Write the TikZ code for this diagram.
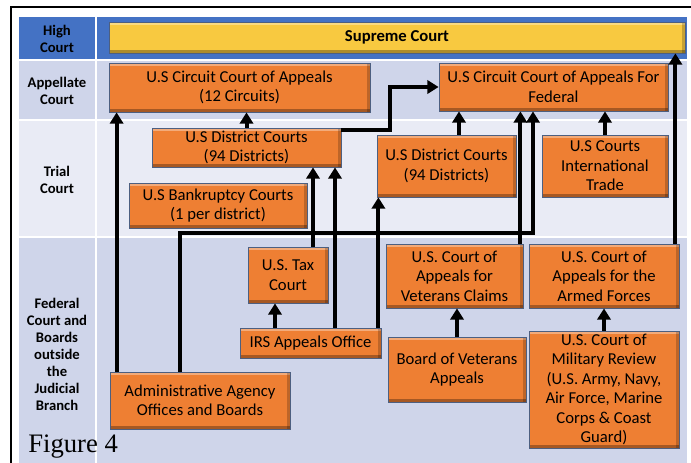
\documentclass[tikz,border=0pt]{standalone}
\usepackage{fontspec}
\setmainfont{Carlito}
\newfontfamily\figfont{Liberation Serif}
\usepackage{xcolor}
\usetikzlibrary{arrows.meta}

\definecolor{hdblue}{HTML}{4472C4}
\definecolor{rowdark}{HTML}{CFD5EA}
\definecolor{rowlight}{HTML}{E9EBF5}
\definecolor{boxorange}{HTML}{EE7F33}
\definecolor{boxyellow}{HTML}{F8C940}
\definecolor{boxedge}{HTML}{4D5F80}

\tikzset{
 bevel/.style={path picture={
  \fill[white,opacity=.35] (path picture bounding box.north west) rectangle ([yshift=-2pt]path picture bounding box.north east);
  \fill[black,opacity=.3] (path picture bounding box.south west) rectangle ([yshift=2pt]path picture bounding box.south east);
  \fill[black,opacity=.2] (path picture bounding box.north east) rectangle ([xshift=-2pt]path picture bounding box.south east);}},
 court/.style={draw=boxedge, line width=.6pt, fill=boxorange, bevel, align=center, inner sep=0pt, font=\fontsize{12.5}{14.6}\selectfont},
 rowlabel/.style={align=center, font=\fontsize{11}{12.75}\selectfont\bfseries},
 arr/.style={line width=3pt, -{Triangle[width=10pt,length=8.5pt]}}
}

\begin{document}
\begin{tikzpicture}[x=.75pt, y=-.75pt]
\useasboundingbox (0,0) rectangle (691,463);
\fill[white] (0,0) rectangle (691,463);
\foreach \ya/\yb/\c in {17/59/hdblue, 61/119/rowdark, 121/236/rowlight, 238/463/rowdark} {
 \fill[\c] (19,\ya) rectangle (94.5,\yb);
 \fill[\c] (96.5,\ya) rectangle (687,\yb);
}
\draw[line width=1.2pt] (11,463) -- (11,7) -- (691,7);

\node[rowlabel] (lhigh) at (57,39) {High\\Court};
\node[rowlabel] (lapp) at (57,91) {Appellate\\Court};
\node[rowlabel] (ltrial) at (57,180) {Trial\\Court};
\node[rowlabel] (lfed) at (57,354) {Federal\\Court and\\Boards\\outside\\the\\Judicial\\Branch};

\node[court, fill=boxyellow, minimum width=432pt, minimum height=23.25pt, font=\fontsize{12.5}{14.6}\selectfont\bfseries] (sup) at (397,37.5) {Supreme Court};
\node[court, minimum width=195.75pt, minimum height=36.75pt] (circ12) at (239.5,87.5) {U.S Circuit Court of Appeals\\(12 Circuits)};
\node[court, minimum width=171.75pt, minimum height=36pt] (circfed) at (553.5,87) {U.S Circuit Court of Appeals For\\Federal};
\node[court, minimum width=141.75pt, minimum height=29.25pt] (distL) at (246.5,147.5) {U.S District Courts\\(94 Districts)};
\node[court, minimum width=133.5pt, minimum height=33.75pt] (bank) at (218,205.5) {U.S Bankruptcy Courts\\(1 per district)};
\node[court, minimum width=104.25pt, minimum height=46.5pt] (distR) at (446.5,166) {U.S District Courts\\(94 Districts)};
\node[court, minimum width=94.5pt, minimum height=46.5pt] (trade) at (605,166) {U.S Courts\\International\\Trade};
\node[court, minimum width=60pt, minimum height=42pt] (tax) at (288,275) {U.S. Tax\\Court};
\node[court, minimum width=105.75pt, minimum height=22.5pt] (irs) at (310.5,343) {IRS Appeals Office};
\node[court, minimum width=135pt, minimum height=42.75pt] (admin) at (200,400.5) {Administrative Agency\\Offices and Boards};
\node[court, minimum width=102.75pt, minimum height=48pt] (vetclaims) at (454.5,276) {U.S. Court of\\Appeals for\\Veterans Claims};
\node[court, minimum width=112.5pt, minimum height=48pt] (armed) at (604,276) {U.S. Court of\\Appeals for the\\Armed Forces};
\node[court, minimum width=103.5pt, minimum height=48.75pt] (board) at (457,369.5) {Board of Veterans\\Appeals};
\node[court, minimum width=112.5pt, minimum height=87.75pt] (military) at (604,389.5) {U.S. Court of\\Military Review\\(U.S. Army, Navy,\\Air Force, Marine\\Corps \& Coast\\Guard)};

\node[anchor=base west, inner sep=0pt, font=\figfont\fontsize{20}{24}\selectfont] (fig) at (28,452) {Figure 4};

\coordinate (adminL) at ([xshift=5.25pt]admin.north west);
\coordinate (adminM) at ([xshift=-15pt]admin.north);
\coordinate (busE) at (533,233);
\coordinate (taxT) at ([xshift=18.75pt]tax.north);
\coordinate (taxB) at ([xshift=-9.75pt]tax.south);
\coordinate (irsA) at ([xshift=18.375pt]irs.north);
\coordinate (irsB) at ([xshift=-2.25pt]irs.north east);
\coordinate (jog) at (390,110);
\coordinate (distRT) at ([xshift=9.375pt]distR.north);
\coordinate (vetT) at ([xshift=-2.25pt]vetclaims.north east);
\coordinate (armT) at ([xshift=-3pt]armed.north east);

\draw[arr] (distL.north) -- (distL.north |- circ12.south);
\draw[arr] (adminL) -- (adminL |- circ12.south);
\draw[arr] (adminM) |- (busE) -- (busE |- circfed.south);
\draw[arr] (taxT) -- (taxT |- distL.south);
\draw[arr] (irsA) -- (irsA |- distL.south);
\draw[arr] (taxB |- irs.north) -- (taxB);
\draw[arr] (irsB) -- (irsB |- distR.south);
\draw[arr] ([yshift=-1.5pt]distL.north east) -| (jog) |- (circfed.west);
\draw[arr] (distRT) -- (distRT |- circfed.south);
\draw[arr] (trade.north) -- (trade.north |- circfed.south);
\draw[arr] (vetT) -- (vetT |- circfed.south);
\draw[arr] (board.north) -- (board.north |- vetclaims.south);
\draw[arr] (military.north) -- (military.north |- armed.south);
\draw[arr] (armT) -- (armT |- sup.south);
\end{tikzpicture}
\end{document}
